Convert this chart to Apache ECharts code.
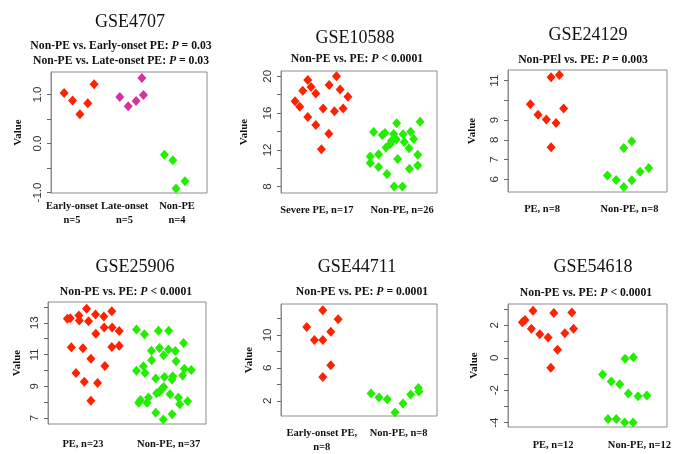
<!DOCTYPE html>
<html>
<head>
<meta charset="utf-8">
<title>Strip charts</title>
<script src="https://cdn.jsdelivr.net/npm/echarts@6/dist/echarts.min.js"></script>
<style>
  html, body { margin: 0; padding: 0; background: #fff; }
  #chart { width: 675px; height: 454px; }
</style>
</head>
<body>
<div id="chart"></div>
<script>
// GSE4707
const p1EarlyX = [0.85, 1.01, 1.15, 1.30, 1.42]
const p1EarlyY = [1.03, 0.88, 0.60, 0.82, 1.21]
const p1LateX = [1.91, 2.07, 2.22, 2.33, 2.36]
const p1LateY = [0.95, 0.76, 0.87, 1.34, 0.99]
const p1NonX = [2.76, 2.92, 2.98, 3.15]
const p1NonY = [-0.23, -0.34, -0.92, -0.77]

// GSE10588
const p2PeX = [0.745, 0.80, 0.894, 0.835, 0.933, 0.988, 0.894, 1.074, 0.988, 1.054, 1.141, 1.145, 1.207, 1.231, 1.274, 1.309, 1.365]
const p2PeY = [17.30, 16.68, 19.60, 18.43, 18.83, 18.14, 15.58, 16.50, 14.71, 12.08, 13.76, 19.05, 16.20, 20.0, 18.58, 16.50, 17.77]
const p2NonX = [1.666, 1.627, 1.627, 1.725, 1.725, 1.768, 1.80, 1.812, 1.823, 1.862, 1.874, 1.906, 1.902, 1.937, 1.933, 1.949, 2.004, 2.012, 2.027, 2.082, 2.086, 2.101, 2.136, 2.184, 2.184, 2.212]
const p2NonY = [13.94, 11.28, 10.58, 11.53, 10.15, 13.61, 13.83, 12.26, 9.38, 12.63, 12.96, 8.03, 13.72, 14.89, 13.14, 11.02, 8.03, 13.69, 12.85, 12.19, 9.96, 13.98, 13.18, 11.46, 10.29, 15.07]

// GSE24129
const p3PeX = [0.866, 0.954, 1.049, 1.103, 1.103, 1.160, 1.198, 1.247]
const p3PeY = [9.81, 9.27, 9.03, 11.17, 7.63, 8.86, 11.29, 9.59]
const p3NonX = [1.748, 1.848, 1.935, 1.935, 2.027, 2.027, 2.122, 2.221]
const p3NonY = [6.19, 5.97, 7.59, 5.61, 7.93, 5.95, 6.39, 6.58]

// GSE25906
const p4PeX = [0.819, 0.853, 0.953, 0.958, 1.043, 1.066, 1.147, 1.244, 1.337, 1.151, 1.248, 1.341, 1.423, 0.865, 1.0, 1.093, 1.337, 1.423, 1.256, 0.919, 1.016, 1.171, 1.093]
const p4PeY = [13.25, 13.29, 13.46, 13.15, 13.88, 13.10, 13.52, 13.40, 13.73, 12.31, 12.71, 12.71, 12.48, 11.45, 11.39, 10.74, 11.47, 11.56, 10.28, 9.84, 9.28, 9.21, 8.08]
const p4NonX = [1.624, 1.717, 1.880, 2.0, 2.174, 1.799, 1.892, 1.997, 2.078, 1.942, 1.802, 2.086, 1.706, 1.624, 1.725, 2.183, 2.264, 2.163, 1.849, 1.950, 2.047, 2.040, 1.942, 1.919, 1.892, 1.860, 2.016, 2.113, 2.128, 2.221, 1.764, 1.671, 1.651, 1.748, 1.849, 1.938, 2.040]
const p4NonY = [12.58, 12.27, 12.50, 12.50, 11.72, 11.24, 11.41, 11.31, 11.22, 10.95, 10.64, 10.57, 10.26, 9.97, 9.84, 10.11, 10.03, 9.67, 9.49, 9.59, 9.63, 9.42, 8.96, 8.82, 8.63, 8.56, 8.50, 8.29, 7.87, 8.06, 8.29, 8.13, 7.96, 7.96, 7.33, 6.91, 7.23]

// GSE44711
const p5PeX = [0.804, 0.904, 1.013, 1.013, 1.117, 1.213, 1.117, 1.013]
const p5PeY = [10.98, 9.40, 13.01, 9.40, 10.38, 11.92, 6.32, 4.89]
const p5NonX = [1.641, 1.745, 1.853, 1.953, 2.057, 2.157, 2.257, 2.265]
const p5NonY = [2.89, 2.41, 2.18, 0.60, 1.69, 2.78, 3.57, 3.12]

// GSE54618
const p6PeX = [0.644, 0.674, 0.767, 0.748, 0.845, 0.942, 1.008, 1.051, 0.973, 1.136, 1.217, 1.237]
const p6PeY = [2.19, 2.33, 2.91, 1.79, 1.46, 1.26, 2.76, 0.49, -0.62, 1.51, 2.80, 1.79]
const p6NonX = [1.574, 1.674, 1.772, 1.834, 1.930, 1.872, 1.985, 2.086, 1.636, 1.733, 1.830, 1.927]
const p6NonY = [-1.03, -1.46, -1.63, -0.06, 0.04, -2.21, -2.37, -2.33, -3.77, -3.77, -4.0, -4.0]

// titles, group labels, ticks
const titles = ['GSE4707', 'GSE10588', 'GSE24129', 'GSE25906', 'GSE44711', 'GSE54618']
const subtitles = [
  'Non-PE vs. Early-onset PE: {i|P} = 0.03\nNon-PE vs. Late-onset PE: {i|P} = 0.03',
  'Non-PE vs. PE: {i|P} < 0.0001',
  'Non-PEl vs. PE: {i|P} = 0.003',
  'Non-PE vs. PE: {i|P} < 0.0001',
  'Non-PE vs. PE: {i|P} = 0.0001',
  'Non-PE vs. PE: {i|P} < 0.0001'
]
const groupLabels = [
  ['Early-onset\nn=5', 'Late-onset\nn=5', 'Non-PE\nn=4'],
  ['Severe PE, n=17', 'Non-PE, n=26'],
  ['PE, n=8', 'Non-PE, n=8'],
  ['PE, n=23', 'Non-PE, n=37'],
  ['Early-onset PE,\nn=8', 'Non-PE, n=8'],
  ['PE, n=12', 'Non-PE, n=12']
]
const yTicks = [
  [-1, -0.5, 0, 0.5, 1],
  [8, 10, 12, 14, 16, 18, 20],
  [6, 7, 8, 9, 10, 11],
  [7, 8, 9, 10, 11, 12, 13, 14],
  [2, 4, 6, 8, 10, 12],
  [-4, -3, -2, -1, 0, 1, 2, 3]
]
const yLabels = [
  [-1, 0, 1],
  [8, 12, 16, 20],
  [6, 7, 8, 9, 11],
  [7, 9, 11, 13],
  [2, 6, 10],
  [-4, -2, 0, 2]
]

const RED = '#ff2200'
const PINK = '#d4339f'
const GREEN = '#22ee00'

const groups = [
  [[p1EarlyX, p1EarlyY, RED], [p1LateX, p1LateY, PINK], [p1NonX, p1NonY, GREEN]],
  [[p2PeX, p2PeY, RED], [p2NonX, p2NonY, GREEN]],
  [[p3PeX, p3PeY, RED], [p3NonX, p3NonY, GREEN]],
  [[p4PeX, p4PeY, RED], [p4NonX, p4NonY, GREEN]],
  [[p5PeX, p5PeY, RED], [p5NonX, p5NonY, GREEN]],
  [[p6PeX, p6PeY, RED], [p6NonX, p6NonY, GREEN]]
]

// panel geometry (pixels) and axis extents
const layout = [
  { left: 51, top: 72, width: 156, height: 121, xMin: 0.6, xMax: 3.57, yMin: -1.01, yMax: 1.46, titleX: 130, titleY: 22, subX: 121, subY: 45, nameGap: 27, xMargin: 6, yDecimals: 1 },
  { left: 281, top: 71, width: 156, height: 122, xMin: 0.58, xMax: 2.41, yMin: 7.31, yMax: 20.58, titleX: 355, titleY: 38, subX: 357, subY: 59, nameGap: 31, xMargin: 10, yDecimals: 0 },
  { left: 508, top: 70, width: 159, height: 122, xMin: 0.61, xMax: 2.43, yMin: 5.36, yMax: 11.54, titleX: 588, titleY: 35, subX: 583, subY: 60, nameGap: 30, xMargin: 10, yDecimals: 0 },
  { left: 48, top: 302, width: 158, height: 122, xMin: 0.593, xMax: 2.435, yMin: 6.62, yMax: 14.31, titleX: 135, titleY: 267, subX: 126, subY: 292, nameGap: 25, xMargin: 13, yDecimals: 0 },
  { left: 281, top: 304, width: 156, height: 120, xMin: 0.469, xMax: 2.5, yMin: 0.16, yMax: 13.76, titleX: 357, titleY: 267, subX: 362, subY: 292, nameGap: 26, xMargin: 10, yDecimals: 0 },
  { left: 508, top: 304, width: 159, height: 123, xMin: 0.477, xMax: 2.32, yMin: -4.27, yMax: 3.32, titleX: 593, titleY: 267, subX: 586, subY: 293, nameGap: 28, xMargin: 11, yDecimals: 0 }
]

const SERIF = '"Liberation Serif", "DejaVu Serif", serif'
const SANS = '"Liberation Sans", Arial, sans-serif'

const option = {
  animation: false,
  backgroundColor: '#fff',
  title: [],
  grid: [],
  xAxis: [],
  yAxis: [],
  series: []
}

layout.forEach((p, i) => {
  option.title.push({
    text: titles[i],
    left: p.titleX,
    top: p.titleY,
    padding: 0,
    textAlign: 'center',
    textVerticalAlign: 'middle',
    textStyle: { fontFamily: SERIF, fontSize: 18, fontWeight: 'normal', color: '#111' }
  })
  option.title.push({
    text: subtitles[i],
    left: p.subX,
    top: i === 0 ? p.subY - 7 : p.subY,
    padding: 0,
    textAlign: 'center',
    textVerticalAlign: i === 0 ? 'top' : 'middle',
    textStyle: {
      fontFamily: SERIF,
      fontSize: 11.7,
      fontWeight: 'bold',
      color: '#111',
      lineHeight: 15,
      rich: {
        i: { fontFamily: SERIF, fontSize: 11.7, fontWeight: 'bold', fontStyle: 'italic', color: '#111', lineHeight: 15 }
      }
    }
  })

  option.grid.push({
    left: p.left,
    top: p.top,
    width: p.width,
    height: p.height,
    show: true,
    borderColor: '#8c8c8c',
    borderWidth: 1,
    backgroundColor: 'transparent'
  })

  const labels = groupLabels[i]
  option.xAxis.push({
    type: 'value',
    gridIndex: i,
    min: p.xMin,
    max: p.xMax,
    axisLine: { show: false },
    axisTick: { show: false },
    splitLine: { show: false },
    axisLabel: {
      customValues: labels.map((_, k) => k + 1),
      formatter: v => labels[Math.round(v) - 1],
      margin: p.xMargin,
      fontFamily: SERIF,
      fontWeight: 'bold',
      fontSize: 10.5,
      lineHeight: 14,
      color: '#111'
    }
  })

  option.yAxis.push({
    type: 'value',
    gridIndex: i,
    min: p.yMin,
    max: p.yMax,
    name: 'Value',
    nameLocation: 'middle',
    nameRotate: 90,
    nameGap: p.nameGap,
    nameTextStyle: { fontFamily: SERIF, fontWeight: 'bold', fontSize: 11, color: '#111' },
    axisLine: { show: true, lineStyle: { color: '#8c8c8c', width: 1 } },
    splitLine: { show: false },
    axisTick: {
      show: true,
      length: 4,
      customValues: yTicks[i],
      lineStyle: { color: '#666', width: 1 }
    },
    axisLabel: {
      customValues: yLabels[i],
      rotate: 90,
      margin: 7,
      fontFamily: SANS,
      fontSize: 11.5,
      color: '#333',
      formatter: v => v.toFixed(p.yDecimals)
    }
  })

  groups[i].forEach(([xs, ys, color]) => {
    option.series.push({
      type: 'scatter',
      xAxisIndex: i,
      yAxisIndex: i,
      symbol: 'diamond',
      symbolSize: [9, 10],
      itemStyle: { color: color, opacity: 1 },
      data: xs.map((x, k) => [x, ys[k]])
    })
  })
})

const chart = echarts.init(document.getElementById('chart'))
chart.setOption(option)
</script>
</body>
</html>
